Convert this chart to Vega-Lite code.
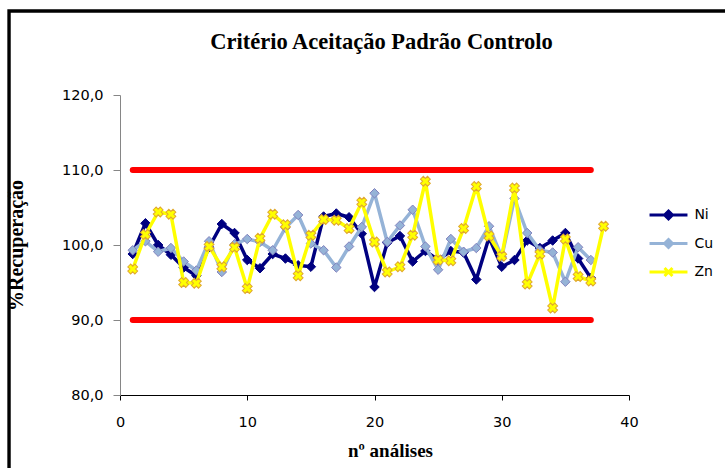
{
  "$schema": "https://vega.github.io/schema/vega-lite/v6.json",
  "width": 509,
  "height": 300,
  "autosize": {"type": "none"},
  "padding": {"left": 120, "top": 95, "right": 96, "bottom": 73},
  "background": "white",
  "title": {"text": "Critério Aceitação Padrão Controlo", "font": "Liberation Serif", "fontSize": 22.5, "fontWeight": "bold", "color": "#000000", "offset": 0, "dy": 44, "dx": 7, "anchor": "middle", "baseline": "top"},
  "config": {"view": {"stroke": null}, "axis": {"grid": false}},
  "datasets": {
    "main": [
      {"n":1,"s":"Ni","v":98.8},{"n":2,"s":"Ni","v":102.9},{"n":3,"s":"Ni","v":100.0},{"n":4,"s":"Ni","v":98.7},{"n":5,"s":"Ni","v":97.0},{"n":6,"s":"Ni","v":95.9},{"n":7,"s":"Ni","v":99.7},{"n":8,"s":"Ni","v":102.8},{"n":9,"s":"Ni","v":101.6},{"n":10,"s":"Ni","v":98.0},
      {"n":11,"s":"Ni","v":96.9},{"n":12,"s":"Ni","v":98.8},{"n":13,"s":"Ni","v":98.2},{"n":14,"s":"Ni","v":97.3},{"n":15,"s":"Ni","v":97.1},{"n":16,"s":"Ni","v":103.8},{"n":17,"s":"Ni","v":104.2},{"n":18,"s":"Ni","v":103.7},{"n":19,"s":"Ni","v":101.5},{"n":20,"s":"Ni","v":94.4},
      {"n":21,"s":"Ni","v":100.3},{"n":22,"s":"Ni","v":101.2},{"n":23,"s":"Ni","v":97.8},{"n":24,"s":"Ni","v":99.2},{"n":25,"s":"Ni","v":98.0},{"n":26,"s":"Ni","v":99.2},{"n":27,"s":"Ni","v":99.0},{"n":28,"s":"Ni","v":95.4},{"n":29,"s":"Ni","v":101.0},{"n":30,"s":"Ni","v":97.1},
      {"n":31,"s":"Ni","v":98.0},{"n":32,"s":"Ni","v":100.6},{"n":33,"s":"Ni","v":99.6},{"n":34,"s":"Ni","v":100.6},{"n":35,"s":"Ni","v":101.6},{"n":36,"s":"Ni","v":98.2},{"n":37,"s":"Ni","v":95.6},
      {"n":1,"s":"Cu","v":99.3},{"n":2,"s":"Cu","v":100.5},{"n":3,"s":"Cu","v":99.1},{"n":4,"s":"Cu","v":99.6},{"n":5,"s":"Cu","v":97.8},{"n":6,"s":"Cu","v":96.6},{"n":7,"s":"Cu","v":100.5},{"n":8,"s":"Cu","v":96.4},{"n":9,"s":"Cu","v":100.1},{"n":10,"s":"Cu","v":100.8},
      {"n":11,"s":"Cu","v":100.4},{"n":12,"s":"Cu","v":99.3},{"n":13,"s":"Cu","v":102.3},{"n":14,"s":"Cu","v":104.0},{"n":15,"s":"Cu","v":100.2},{"n":16,"s":"Cu","v":99.3},{"n":17,"s":"Cu","v":97.0},{"n":18,"s":"Cu","v":99.8},{"n":19,"s":"Cu","v":102.4},{"n":20,"s":"Cu","v":106.9},
      {"n":21,"s":"Cu","v":100.4},{"n":22,"s":"Cu","v":102.6},{"n":23,"s":"Cu","v":104.7},{"n":24,"s":"Cu","v":99.8},{"n":25,"s":"Cu","v":96.7},{"n":26,"s":"Cu","v":100.8},{"n":27,"s":"Cu","v":99.1},{"n":28,"s":"Cu","v":99.6},{"n":29,"s":"Cu","v":102.5},{"n":30,"s":"Cu","v":98.4},
      {"n":31,"s":"Cu","v":106.2},{"n":32,"s":"Cu","v":101.6},{"n":33,"s":"Cu","v":99.3},{"n":34,"s":"Cu","v":99.0},{"n":35,"s":"Cu","v":95.1},{"n":36,"s":"Cu","v":99.7},{"n":37,"s":"Cu","v":98.0},
      {"n":1,"s":"Zn","v":96.8},{"n":2,"s":"Zn","v":101.4},{"n":3,"s":"Zn","v":104.4},{"n":4,"s":"Zn","v":104.1},{"n":5,"s":"Zn","v":95.0},{"n":6,"s":"Zn","v":94.9},{"n":7,"s":"Zn","v":99.8},{"n":8,"s":"Zn","v":97.1},{"n":9,"s":"Zn","v":99.7},{"n":10,"s":"Zn","v":94.2},
      {"n":11,"s":"Zn","v":100.9},{"n":12,"s":"Zn","v":104.1},{"n":13,"s":"Zn","v":102.7},{"n":14,"s":"Zn","v":95.9},{"n":15,"s":"Zn","v":101.3},{"n":16,"s":"Zn","v":103.4},{"n":17,"s":"Zn","v":103.3},{"n":18,"s":"Zn","v":102.2},{"n":19,"s":"Zn","v":105.7},{"n":20,"s":"Zn","v":100.4},
      {"n":21,"s":"Zn","v":96.4},{"n":22,"s":"Zn","v":97.1},{"n":23,"s":"Zn","v":101.3},{"n":24,"s":"Zn","v":108.5},{"n":25,"s":"Zn","v":98.0},{"n":26,"s":"Zn","v":97.9},{"n":27,"s":"Zn","v":102.2},{"n":28,"s":"Zn","v":107.8},{"n":29,"s":"Zn","v":101.2},{"n":30,"s":"Zn","v":98.5},
      {"n":31,"s":"Zn","v":107.6},{"n":32,"s":"Zn","v":94.8},{"n":33,"s":"Zn","v":98.8},{"n":34,"s":"Zn","v":91.6},{"n":35,"s":"Zn","v":100.8},{"n":36,"s":"Zn","v":95.8},{"n":37,"s":"Zn","v":95.2},{"n":38,"s":"Zn","v":102.5}
    ],
    "lim": [
      {"n":1,"v":110,"g":"sup"},{"n":37,"v":110,"g":"sup"},
      {"n":1,"v":90,"g":"inf"},{"n":37,"v":90,"g":"inf"}
    ]
  },
  "encoding": {
    "x": {"field": "n", "type": "quantitative", "scale": {"domain": [0, 40], "nice": false},
      "axis": {"title": "nº análises", "values": [0, 10, 20, 30, 40], "grid": false, "domainColor": "#000000", "tickColor": "#000000", "tickSize": 5, "labelFont": "DejaVu Sans", "labelFontSize": 14.5, "labelColor": "#000000", "labelPadding": 15, "labelFlush": false, "titleFont": "Liberation Serif", "titleFontSize": 19, "titleFontWeight": "bold", "titleColor": "#000000", "titleX": 270, "titleY": 46, "titleBaseline": "top", "titleAlign": "center"}},
    "y": {"field": "v", "type": "quantitative", "scale": {"domain": [80, 120], "nice": false, "zero": false},
      "axis": {"title": "%Recuperação", "values": [80, 90, 100, 110, 120], "grid": false, "domainColor": "#868686", "tickColor": "#868686", "tickSize": 7, "labelFont": "DejaVu Sans", "labelFontSize": 14.5, "labelColor": "#000000", "labelPadding": 10, "labelExpr": "replace(format(datum.value, '.1f'), '.', ',')", "titleFont": "Liberation Serif", "titleFontSize": 20, "titleFontWeight": "bold", "titleColor": "#000000", "titleX": -94, "titleY": 150, "titleAngle": -90, "titleBaseline": "bottom", "titleAlign": "center"}}
  },
  "layer": [
    {
      "data": {"name": "lim"},
      "mark": {"type": "rect", "fill": null, "filled": false, "stroke": "#000000", "strokeWidth": 3.4, "clip": false},
      "encoding": {
        "x": {"datum": -8.72, "type": "quantitative", "scale": {"domain": [0, 40], "nice": false},
          "axis": {"title": "nº análises", "values": [0, 10, 20, 30, 40], "grid": false, "domainColor": "#000000", "tickColor": "#000000", "tickSize": 5, "labelFont": "DejaVu Sans", "labelFontSize": 14.5, "labelColor": "#000000", "labelPadding": 15, "labelFlush": false, "titleFont": "Liberation Serif", "titleFontSize": 19, "titleFontWeight": "bold", "titleColor": "#000000", "titleX": 270, "titleY": 46, "titleBaseline": "top", "titleAlign": "center"}},
        "x2": {"datum": 50},
        "y": {"datum": 131.2, "type": "quantitative", "scale": {"domain": [80, 120], "nice": false, "zero": false},
          "axis": {"title": "%Recuperação", "values": [80, 90, 100, 110, 120], "grid": false, "domainColor": "#868686", "tickColor": "#868686", "tickSize": 7, "labelFont": "DejaVu Sans", "labelFontSize": 14.5, "labelColor": "#000000", "labelPadding": 10, "labelExpr": "replace(format(datum.value, '.1f'), '.', ',')", "titleFont": "Liberation Serif", "titleFontSize": 20, "titleFontWeight": "bold", "titleColor": "#000000", "titleX": -94, "titleY": 150, "titleAngle": -90, "titleBaseline": "bottom", "titleAlign": "center"}},
        "y2": {"datum": 60}
      },
      "transform": [{"filter": "datum.n === 1 && datum.g === 'sup'"}]
    },
    {
      "data": {"name": "lim"},
      "mark": {"type": "line", "color": "#FF0000", "strokeWidth": 6, "strokeCap": "round"},
      "encoding": {"detail": {"field": "g", "type": "nominal"}}
    },
    {
      "data": {"name": "main"},
      "transform": [{"filter": "datum.s === 'Ni'"}],
      "mark": {"type": "line", "color": "#000080", "strokeWidth": 3.5, "strokeJoin": "round"}
    },
    {
      "data": {"name": "main"},
      "transform": [{"filter": "datum.s === 'Ni'"}],
      "mark": {"type": "point", "shape": "diamond", "size": 90, "filled": true, "fill": "#000080", "stroke": "#000080", "strokeWidth": 1, "opacity": 1}
    },
    {
      "data": {"name": "main"},
      "transform": [{"filter": "datum.s === 'Cu'"}],
      "mark": {"type": "line", "color": "#95B3D7", "strokeWidth": 3.5, "strokeJoin": "round"}
    },
    {
      "data": {"name": "main"},
      "transform": [{"filter": "datum.s === 'Cu'"}],
      "mark": {"type": "point", "shape": "diamond", "size": 90, "filled": true, "fill": "#95B3D7", "stroke": "#8282BE", "strokeWidth": 1, "opacity": 1}
    },
    {
      "data": {"name": "main"},
      "transform": [{"filter": "datum.s === 'Zn'"}],
      "mark": {"type": "line", "color": "#FFFF00", "strokeWidth": 3.5, "strokeJoin": "round"}
    },
    {
      "data": {"name": "main"},
      "transform": [{"filter": "datum.s === 'Zn'"}],
      "mark": {"type": "point", "shape": "cross", "angle": 45, "size": 100, "filled": true, "fill": "#FFFF00", "stroke": "#E0A830", "strokeWidth": 1, "opacity": 1}
    },
    {
      "data": {"name": "main"},
      "transform": [{"filter": "datum.n < 0"}],
      "mark": {"type": "point", "opacity": 1},
      "encoding": {
        "stroke": {"field": "s", "type": "nominal", "scale": {"domain": ["Ni", "Cu", "Zn"], "range": ["#000080", "#95B3D7", "#FFFF00"]},
          "legend": {"orient": "none", "legendX": 531, "legendY": 102.5, "title": null, "symbolSize": 1000, "symbolStrokeWidth": 3, "labelFont": "DejaVu Sans", "labelFontSize": 14, "labelColor": "#000000", "labelOffset": 8.4, "rowPadding": 0.5, "padding": 0}},
        "fill": {"field": "s", "type": "nominal", "scale": {"domain": ["Ni", "Cu", "Zn"], "range": ["#000080", "#95B3D7", "#FFFF00"]},
          "legend": {"orient": "none", "legendX": 531, "legendY": 102.5, "title": null, "symbolSize": 1000, "symbolStrokeWidth": 3, "labelFont": "DejaVu Sans", "labelFontSize": 14, "labelColor": "#000000", "labelOffset": 8.4, "rowPadding": 0.5, "padding": 0}},
        "shape": {"field": "s", "type": "nominal", "scale": {"domain": ["Ni", "Cu", "Zn"], "range": ["M-1.2,0L1.2,0M0,-0.25L0.25,0L0,0.25L-0.25,0Z", "M-1.2,0L1.2,0M0,-0.25L0.25,0L0,0.25L-0.25,0Z", "M-1.2,0L1.2,0M-0.25,-0.25L0.25,0.25M-0.25,0.25L0.25,-0.25"]},
          "legend": {"orient": "none", "legendX": 531, "legendY": 102.5, "title": null, "symbolSize": 1000, "symbolStrokeWidth": 3, "labelFont": "DejaVu Sans", "labelFontSize": 14, "labelColor": "#000000", "labelOffset": 8.4, "rowPadding": 0.5, "padding": 0}}
      }
    }
  ]
}
